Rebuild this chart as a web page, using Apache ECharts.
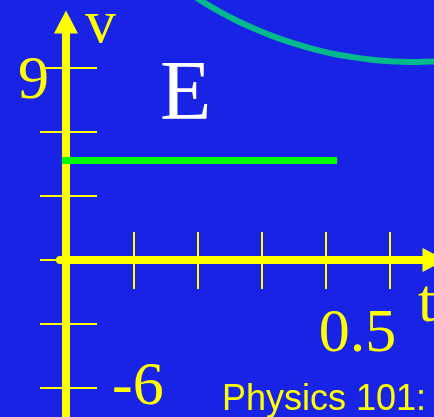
<!DOCTYPE html>
<html>
<head>
<meta charset="utf-8">
<script src="https://cdn.jsdelivr.net/npm/echarts@6/dist/echarts.min.js"></script>
<style>
  html, body { margin: 0; padding: 0; background: #1923e6; }
  #chart { width: 434px; height: 417px; }
</style>
</head>
<body>
<div id="chart"></div>
<script>
// data
const yTicks = [9, 6, 3, 0, -3, -6];
const yLabelsLeft = [9];
const yLabelsRight = [-6];
const xTicks = [0.1, 0.2, 0.3, 0.4, 0.5];
const xLabels = [0.5];

// green line: E field value vs t
const lineT = [-0.0117, 0.418];
const lineV = [4.66, 4.66];

// teal arc top right
const arcT = [0.1883, 0.2195, 0.2508, 0.282, 0.3133, 0.3445, 0.3758, 0.407, 0.4383, 0.4695, 0.5008, 0.532, 0.5633, 0.5789];
const arcV = [12.49, 11.9, 11.38, 10.93, 10.54, 10.21, 9.93, 9.7, 9.53, 9.4, 9.32, 9.28, 9.3, 9.32];

const yellow = "#ffff00";
const serif = "Liberation Serif";

const chart = echarts.init(document.getElementById("chart"));

const yBase = {
  type: "value",
  min: -7.36,
  max: 11.156,
  position: "left",
  offset: -6,
  splitLine: { show: false },
};
const xBase = {
  type: "value",
  min: -0.0148,
  max: 0.5695,
  position: "bottom",
  splitLine: { show: false },
};

const option = {
  backgroundColor: "#1923e6",
  animation: false,
  grid: {
    left: 60,
    right: 0,
    top: 22,
    bottom: 0,
    containLabel: false,
    outerBoundsMode: "none",
  },
  xAxis: [
    Object.assign({}, xBase, {
      name: "t",
      nameLocation: "end",
      nameGap: -16,
      nameTextStyle: {
        color: yellow,
        fontFamily: serif,
        fontSize: 62,
        align: "left",
        verticalAlign: "top",
        padding: [14, 0, 0, 0],
      },
      axisLine: {
        onZero: true,
        symbol: ["none", "triangle"],
        symbolSize: [24, 23],
        lineStyle: { color: yellow, width: 8 },
      },
      axisTick: {
        show: true,
        inside: false,
        length: 29,
        customValues: xTicks,
        lineStyle: { color: yellow, width: 2 },
      },
      axisLabel: { show: false },
    }),
    Object.assign({}, xBase, {
      axisLine: { show: false, onZero: true },
      axisTick: {
        show: true,
        inside: true,
        length: 28,
        customValues: xTicks,
        lineStyle: { color: yellow, width: 2 },
      },
      axisLabel: { show: false },
    }),
    // tick label under the t axis, laid from the bottom edge
    Object.assign({}, xBase, {
      axisLine: { show: false, onZero: false },
      axisTick: { show: false },
      axisLabel: {
        inside: true,
        customValues: xLabels,
        color: yellow,
        fontFamily: serif,
        fontSize: 62,
        margin: 51,
        align: "center",
        formatter: "{v|{value}}",
        rich: {
          v: {
            color: yellow,
            fontFamily: serif,
            fontSize: 62,
            padding: [0, 64, 0, 0],
          },
        },
      },
    }),
  ],
  yAxis: [
    Object.assign({}, yBase, {
      name: "v",
      nameLocation: "end",
      nameGap: -35,
      nameTextStyle: {
        color: yellow,
        fontFamily: serif,
        fontSize: 62,
        align: "left",
        padding: [0, 0, 0, 19],
      },
      axisLine: {
        onZero: false,
        symbol: ["none", "triangle"],
        symbolSize: [24, 23],
        lineStyle: { color: yellow, width: 8 },
      },
      axisTick: {
        show: true,
        inside: false,
        length: 26,
        customValues: yTicks,
        lineStyle: { color: yellow, width: 2 },
      },
      axisLabel: {
        customValues: yLabelsLeft,
        color: yellow,
        fontFamily: serif,
        fontSize: 62,
        margin: 17,
        verticalAlign: "top",
        lineHeight: 28,
      },
    }),
    Object.assign({}, yBase, {
      axisLine: { show: false, onZero: false },
      axisTick: {
        show: true,
        inside: true,
        length: 31,
        customValues: yTicks,
        lineStyle: { color: yellow, width: 2 },
      },
      axisLabel: {
        inside: true,
        customValues: yLabelsRight,
        color: yellow,
        fontFamily: serif,
        fontSize: 62,
        margin: 46,
      },
    }),
  ],
  graphic: [
    {
      type: "text",
      left: 160,
      top: 55,
      style: { text: "E", fill: "#ffffff", font: "84px " + serif },
    },
    {
      type: "text",
      left: 222,
      top: 382,
      style: { text: "Physics 101:", fill: yellow, font: "36px Liberation Sans" },
    },
  ],
  series: [
    {
      name: "arc",
      type: "line",
      smooth: true,
      showSymbol: false,
      clip: false,
      data: arcT.map((t, i) => [t, arcV[i]]),
      lineStyle: { color: "#00b98c", width: 6 },
    },
    {
      name: "E",
      type: "line",
      showSymbol: false,
      clip: false,
      z: 5,
      data: lineT.map((t, i) => [t, lineV[i]]),
      lineStyle: { color: "#00ff00", width: 7, cap: "butt" },
    },
  ],
};

chart.setOption(option);
</script>
</body>
</html>
